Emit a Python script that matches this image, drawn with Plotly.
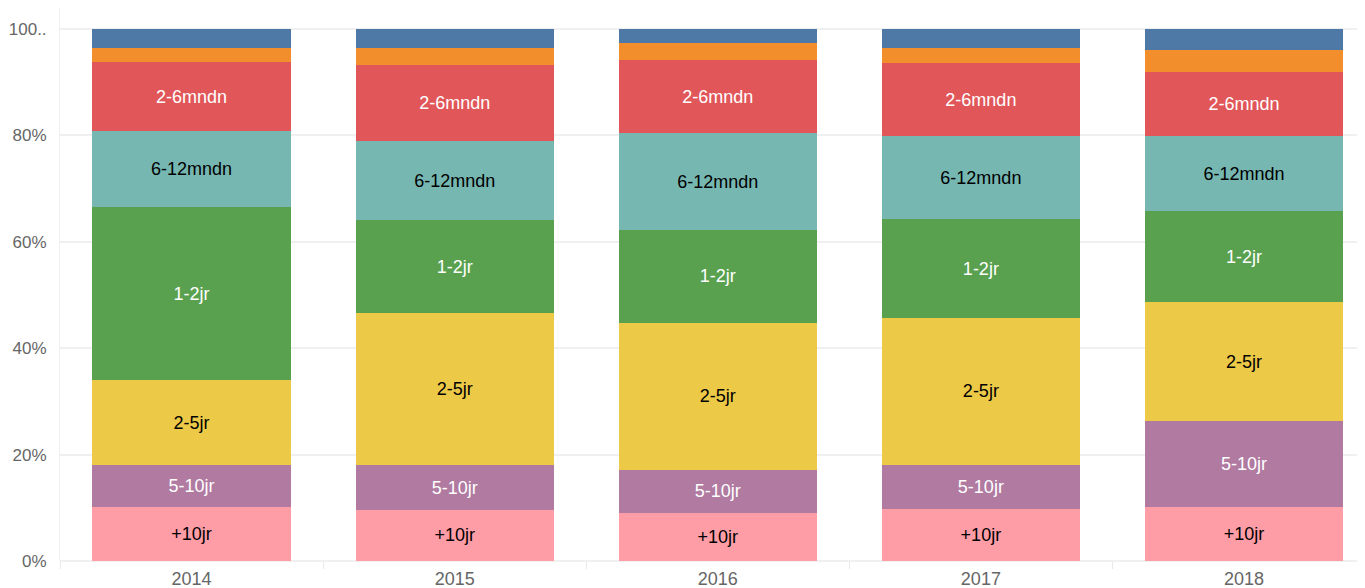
import plotly.graph_objects as go

years = ["2014", "2015", "2016", "2017", "2018"]

# segment shares (%) bottom to top
plus10 = [10.1, 9.6, 9.0, 9.7, 10.2]
j5_10 = [7.9, 8.4, 8.2, 8.4, 16.2]
j2_5 = [16.0, 28.6, 27.6, 27.6, 22.2]
j1_2 = [32.5, 17.5, 17.4, 18.5, 17.1]
m6_12 = [14.3, 14.8, 18.2, 15.6, 14.2]
m2_6 = [13.0, 14.3, 13.7, 13.9, 12.0]
m1_2 = [2.6, 3.2, 3.2, 2.8, 4.1]
m0_1 = [3.6, 3.6, 2.7, 3.5, 4.0]

series = [
    ("+10jr", plus10, "#ff9da7", "#000000", True),
    ("5-10jr", j5_10, "#b07aa1", "#ffffff", True),
    ("2-5jr", j2_5, "#edc948", "#000000", True),
    ("1-2jr", j1_2, "#59a14f", "#ffffff", True),
    ("6-12mndn", m6_12, "#76b7b2", "#000000", True),
    ("2-6mndn", m2_6, "#e15759", "#ffffff", True),
    ("1-2mndn", m1_2, "#f28e2b", "#ffffff", False),
    ("0-1mndn", m0_1, "#4e79a7", "#ffffff", False),
]

ytick_vals = [0, 20, 40, 60, 80, 100]
ytick_text = ["0%", "20%", "40%", "60%", "80%", "100.."]

fig = go.Figure()
for name, vals, color, tcolor, show in series:
    fig.add_trace(go.Bar(
        x=years, y=vals, name=name,
        marker=dict(color=color, line=dict(width=0)),
        text=[name] * len(vals) if show else None,
        textposition="inside" if show else "none",
        insidetextanchor="middle",
        textangle=0,
        textfont=dict(color=tcolor, size=18, family="Liberation Sans, Arial, sans-serif"),
        hovertemplate="%{x}<br>" + name + ": %{y:.1f}%<extra></extra>",
    ))

fig.update_layout(
    barmode="stack",
    bargap=0.247,
    width=1357, height=580,
    margin=dict(l=52, r=0, t=0, b=27),
    plot_bgcolor="#ffffff",
    paper_bgcolor="#ffffff",
    showlegend=False,
    font=dict(family="Liberation Sans, Arial, sans-serif", size=18, color="#666666"),
    uniformtext=dict(minsize=8, mode="show"),
)
fig.update_xaxes(
    type="category",
    range=[-0.5, 4.46],
    showgrid=False,
    tickson="boundaries",
    ticks="outside", ticklen=7, tickcolor="#e8e8e8", tickwidth=1,
    ticklabelstandoff=5,
    tickfont=dict(size=18, color="#666666"),
    showline=False,
    automargin=False,
)
fig.update_yaxes(
    range=[0, 103.95],
    tickvals=ytick_vals, ticktext=ytick_text,
    showgrid=True, gridcolor="#f0f0f0", gridwidth=2,
    zeroline=True, zerolinecolor="#f0f0f0", zerolinewidth=2,
    showline=True, linecolor="#f0f0f0", linewidth=1,
    ticks="", ticklabelstandoff=9,
    tickfont=dict(size=17, color="#666666"),
    automargin=False,
)

fig.write_html("out.html")
